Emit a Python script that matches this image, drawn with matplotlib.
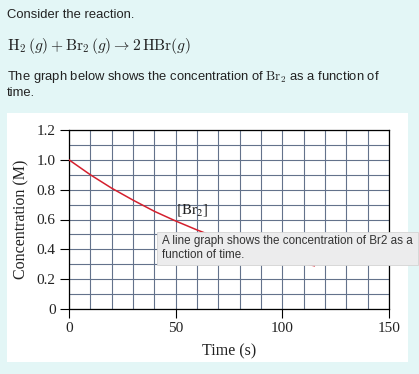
import matplotlib
matplotlib.use("Agg")
import matplotlib.pyplot as plt
from matplotlib.patches import Rectangle

# data
time_s = [0, 10, 20, 30, 40, 50, 60, 70, 80, 90, 100, 110, 115]
br2_conc = [1.00, 0.90, 0.81, 0.73, 0.655, 0.59, 0.53, 0.475, 0.43, 0.385, 0.345, 0.305, 0.29]
x_ticks = [0, 50, 100, 150]
y_ticks = [0, 0.2, 0.4, 0.6, 0.8, 1.0, 1.2]
y_tick_labels = ["0", "0.2", "0.4", "0.6", "0.8", "1.0", "1.2"]

W, H = 419, 374
BG = "#e3f6f6"
GRID = "#63728b"
SERIF = ["Liberation Serif", "DejaVu Serif"]
SANS = ["Liberation Sans", "DejaVu Sans"]


def fx(x):
    return x / W


def fy(y):
    return 1 - y / H


fig = plt.figure(figsize=(W / 100, H / 100), dpi=100, facecolor=BG)

# white panel behind the chart
fig.patches.append(Rectangle((fx(7), fy(362)), fx(408) - fx(7), fy(113) - fy(362),
                             transform=fig.transFigure, facecolor="white",
                             edgecolor="none", zorder=-1))

# question text
fig.text(fx(7), fy(15), "Consider the reaction.", family=SANS, fontsize=9.4,
         color="#222222", va="center")
fig.text(fx(7), fy(46), r"$\mathrm{H}_2\,(g) + \mathrm{Br}_2\,(g) \rightarrow 2\,\mathrm{HBr}(g)$",
         fontsize=11.2, math_fontfamily="cm", color="#222222", va="center")
fig.text(fx(7), fy(77), r"The graph below shows the concentration of $\mathrm{Br}_2$ as a function of",
         family=SANS, fontsize=9.4, math_fontfamily="cm", color="#222222", va="center")
fig.text(fx(7), fy(93), "time.", family=SANS, fontsize=9.4, color="#222222", va="center")

ax = fig.add_axes([fx(69), fy(309), fx(389) - fx(69), fy(130) - fy(309)])
ax.set_facecolor("white")
ax.plot(time_s, br2_conc, color="#d4202e", lw=1.1, zorder=3)

ax.set_xlim(0, 150)
ax.set_ylim(0, 1.2)
ax.set_xticks(x_ticks)
ax.set_yticks(y_ticks)
ax.set_yticklabels(y_tick_labels)
ax.set_xticks(range(0, 151, 10), minor=True)
ax.set_yticks([i / 10 for i in range(13)], minor=True)
ax.grid(True, which="both", color=GRID, lw=0.8)
ax.set_axisbelow(True)
ax.tick_params(which="minor", length=0)
ax.tick_params(which="major", direction="out", length=6.5, width=0.8, color="black",
               labelsize=11, pad=3)
for lab in ax.get_xticklabels() + ax.get_yticklabels():
    lab.set_family(SERIF)
    lab.set_color("#222222")
for sp in ax.spines.values():
    sp.set_color("black")
    sp.set_linewidth(0.9)

ax.set_xlabel("Time (s)", family=SERIF, fontsize=11.5, color="#222222", labelpad=6)
ax.set_ylabel("Concentration (M)", family=SERIF, fontsize=11.5, color="#222222", labelpad=5)

ax.text(50, 0.66, r"$[\mathrm{Br}_2]$", fontsize=11, math_fontfamily="stix",
        color="#222222", va="center", ha="left", zorder=4)

# hover tooltip
fig.patches.append(Rectangle((fx(157), fy(265)), fx(418) - fx(157), fy(232) - fy(265),
                             transform=fig.transFigure, facecolor="#ececed",
                             edgecolor="#d4d4d4", lw=0.6, zorder=5))
fig.text(fx(162), fy(241), "A line graph shows the concentration of Br2 as a",
         family=SANS, fontsize=8.4, color="#333333", va="center", zorder=6)
fig.text(fx(162), fy(255), "function of time.",
         family=SANS, fontsize=8.4, color="#333333", va="center", zorder=6)

fig.savefig("out.png", dpi=100, facecolor=BG)
